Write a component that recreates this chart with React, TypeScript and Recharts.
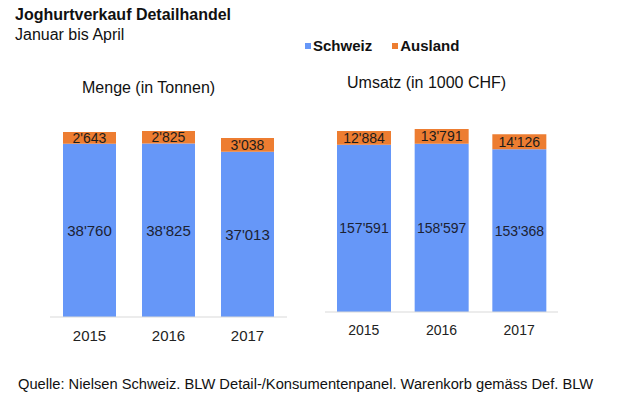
import { Bar, BarChart, LabelList, XAxis, YAxis } from 'recharts'

const years = ['2015', '2016', '2017']
const mengeSchweiz = [38760, 38825, 37013]
const mengeAusland = [2643, 2825, 3038]
const umsatzSchweiz = [157591, 158597, 153368]
const umsatzAusland = [12884, 13791, 14126]

const BLUE = '#6697F8'
const ORANGE = '#ED7D31'
const FONT = '"Liberation Sans", Arial, sans-serif'

const fmt = (v: unknown) => String(v).replace(/\B(?=(\d{3})+(?!\d))/g, "'")

const mengeData = years.map((year, i) => ({ year, schweiz: mengeSchweiz[i], ausland: mengeAusland[i] }))
const umsatzData = years.map((year, i) => ({ year, schweiz: umsatzSchweiz[i], ausland: umsatzAusland[i] }))

interface StackProps {
  data: { year: string; schweiz: number; ausland: number }[]
  width: number
  height: number
  plotHeight: number
  max: number
  barSize: number
  innerFont: number
  tickFont: number
  tickGap: number
}

function StackChart({ data, width, height, plotHeight, max, barSize, innerFont, tickFont, tickGap }: StackProps) {
  const top = 16
  return (
    <BarChart
      width={width}
      height={height}
      data={data}
      margin={{ top, right: 0, left: 0, bottom: 0 }}
      barSize={barSize}
    >
      <XAxis
        dataKey="year"
        height={height - top - plotHeight}
        tickLine={false}
        tickMargin={tickGap}
        axisLine={{ stroke: '#d9d9d9' }}
        tick={{ fill: '#222', fontSize: tickFont, fontFamily: FONT }}
      />
      <YAxis hide domain={[0, max]} />
      <Bar dataKey="schweiz" stackId="a" fill={BLUE} isAnimationActive={false}>
        <LabelList
          dataKey="schweiz"
          position="center"
          formatter={fmt}
          style={{ fill: '#1c2233', fontSize: innerFont, fontFamily: FONT }}
        />
      </Bar>
      <Bar dataKey="ausland" stackId="a" fill={ORANGE} isAnimationActive={false}>
        <LabelList
          dataKey="ausland"
          position="center"
          formatter={fmt}
          style={{ fill: '#1c1c1c', fontSize: 14, fontFamily: FONT }}
        />
      </Bar>
    </BarChart>
  )
}

const text = (left: number, top: number, size: number, bold = false): React.CSSProperties => ({
  position: 'absolute',
  left,
  top,
  fontSize: size,
  fontWeight: bold ? 'bold' : 'normal',
  lineHeight: 1,
  whiteSpace: 'nowrap',
  color: '#111',
})

export default function App() {
  return (
    <div
      style={{
        position: 'absolute',
        left: 0,
        top: 0,
        width: 620,
        height: 398,
        background: '#fff',
        fontFamily: FONT,
        overflow: 'hidden',
      }}
    >
      <div style={text(15, 7, 16, true)}>Joghurtverkauf Detailhandel</div>
      <div style={text(15, 27, 16)}>Januar bis April</div>

      <div style={{ ...text(305, 38, 15, true), display: 'flex', alignItems: 'center' }}>
        <span style={{ width: 6, height: 6, background: BLUE, marginRight: 2 }} />
        <span>Schweiz</span>
        <span style={{ width: 6, height: 6, background: ORANGE, marginLeft: 20, marginRight: 2 }} />
        <span>Ausland</span>
      </div>

      <div style={text(82, 80, 16)}>Menge (in Tonnen)</div>
      <div style={text(347, 75, 16)}>Umsatz (in 1000 CHF)</div>

      <div style={{ position: 'absolute', left: 50, top: 100 }}>
        <StackChart
          data={mengeData}
          width={237}
          height={250}
          plotHeight={201}
          max={45000}
          barSize={53}
          innerFont={15}
          tickFont={15}
          tickGap={7}
        />
      </div>

      <div style={{ position: 'absolute', left: 325, top: 105 }}>
        <StackChart
          data={umsatzData}
          width={233}
          height={240}
          plotHeight={191}
          max={180000}
          barSize={54}
          innerFont={14}
          tickFont={14}
          tickGap={7}
        />
      </div>

      <div style={text(18, 377, 14.7)}>
        Quelle: Nielsen Schweiz. BLW Detail-/Konsumentenpanel. Warenkorb gemäss Def. BLW
      </div>
    </div>
  )
}
